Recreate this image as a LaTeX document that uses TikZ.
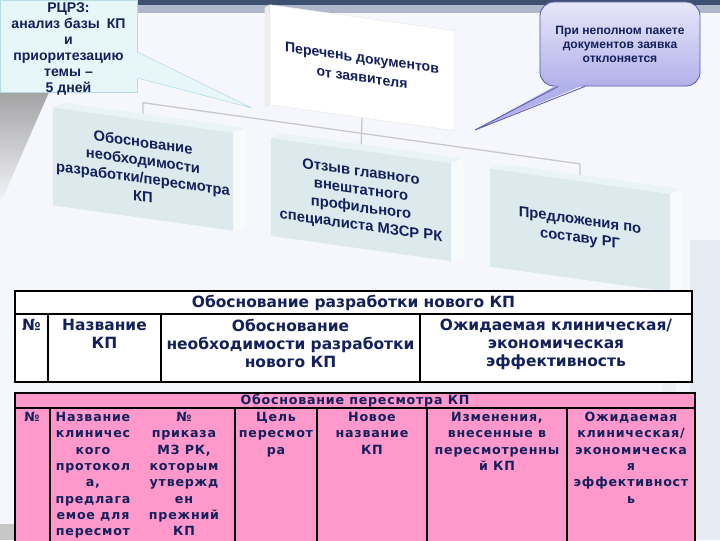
\documentclass[tikz,border=0pt]{standalone}
\usepackage{fontspec}
\setmainfont{Liberation Sans}
\newfontfamily\dejavu{DejaVu Sans}
\newfontfamily\dejawide[LetterSpace=6]{DejaVu Sans}
\usepackage{xcolor}
\usetikzlibrary{positioning,calc}
\definecolor{navy}{HTML}{13205A}
\definecolor{bgtint}{HTML}{F6F7FC}
\definecolor{boxfront}{HTML}{DCEAEE}
\definecolor{boxtop}{HTML}{EAF3F5}
\definecolor{boxside}{HTML}{F7FBFC}
\definecolor{tipcyan}{HTML}{E6F6F9}
\definecolor{tipedge}{HTML}{B4DCE6}
\definecolor{lavtop}{HTML}{E6E6FA}
\definecolor{lavbot}{HTML}{B2B2EA}
\definecolor{lavedge}{HTML}{5A5AAE}
\definecolor{rose}{HTML}{FF99CC}
\definecolor{bandnavy}{HTML}{3E5072}
\definecolor{bandgrey}{HTML}{AEB8CA}
\definecolor{steel}{HTML}{A9BCD0}
\tikzset{
  docbox/.style  ={fill=boxfront,minimum width=4.5cm,minimum height=2.45cm,align=center,
                   font=\fontsize{10.5}{12.8}\selectfont\bfseries,text=navy,transform shape,inner sep=1pt},
  reqbox/.style  ={fill=white,draw=black!8,minimum width=4.6cm,minimum height=2.5cm,align=center,
                   font=\fontsize{10}{14}\selectfont\bfseries,text=navy,transform shape},
  topface/.style ={fill=boxtop},
  sideface/.style={fill=boxside},
  link/.style    ={draw=black!22,line width=0.9pt},
  notebox/.style ={fill=tipcyan,draw=tipedge,line width=0.4pt,minimum width=3.425cm,minimum height=2.3cm},
  notetext/.style={align=center,font=\fontsize{10}{11.5}\selectfont\bfseries,text=navy,inner sep=0pt},
  tipbox/.style  ={rounded corners=10pt,top color=lavtop,bottom color=lavbot,draw=lavedge,line width=0.6pt,
                   minimum width=4cm,minimum height=2.1cm,align=center,
                   font=\fontsize{8.6}{10}\selectfont\bfseries,text=navy},
  tabline/.style ={draw=black,line width=0.8pt},
  tabcell/.style ={font=\dejavu\bfseries\fontsize{11}{12.8}\selectfont,text=navy,align=center,inner sep=0pt},
  rosecell/.style={anchor=north,font=\dejawide\bfseries\fontsize{9}{11.6}\selectfont,text=navy,
                   align=center,inner sep=0pt},
}
\begin{document}
\begin{tikzpicture}[x=0.025cm,y=-0.025cm]
  \useasboundingbox (0,0) rectangle (720,540);
  \clip (0,0) rectangle (720,540);
  % backdrop
  \fill[bgtint] (0,0) rectangle (720,540);
  \shade[top color=black!45,bottom color=bgtint,opacity=.8] (0,90) -- (50,90) -- (28,140) -- (0,205) -- cycle;
  \fill[steel,opacity=.2] (690,240) rectangle (720,540);
  \fill[steel,opacity=.12] (662,250) rectangle (676,540);
  \fill[black!22] (0,524) rectangle (70,540);
  \fill[bandnavy] (120,0) rectangle (720,5);
  \fill[bandgrey] (120,5) rectangle (720,13);

  % documents tree
  \begin{scope}[yslant=-0.14]
    \node[reqbox] (req) at (362,17) {Перечень документов\\от заявителя};
    \node[docbox] (obosn) at (143,149) {Обоснование\\необходимости\\разработки/пересмотра\\КП};
    \node[docbox] (otzyv) at (361,149) {Отзыв главного\\внештатного\\профильного\\специалиста МЗСР РК};
    \node[docbox] (predl) at (580,149) {Предложения по\\составу РГ};
    \fill[black!7] (req.north west) -- ++(-5,4) -- ($(req.south west)+(-5,4)$) -- (req.south west) -- cycle;
    \draw[link] (req.south) -- (otzyv.north);
    \draw[link] (obosn.north) -- ++(0,-17) -- ($(predl.north)+(0,-17)$) -- (predl.north);
    \foreach \b in {obosn,otzyv,predl}{
      \fill[topface] (\b.north west) -- ++(12,-6) -- ($(\b.north east)+(12,-6)$) -- (\b.north east) -- cycle;
      \fill[sideface] (\b.north east) -- ++(12,-6) -- ($(\b.south east)+(12,-6)$) -- (\b.south east) -- cycle;
    }
  \end{scope}

  % callouts
  \node[notebox] (rcrz) at (68.5,46) {};
  \node[notetext] (rcrztext) at (68.5,49) {РЦРЗ:\\анализ базы\enspace КП\\и\\приоритезацию\\темы –\\5 дней};
  \coordinate (rcrztip) at (252,108);
  \fill[tipcyan] ($(rcrz.east)+(-1,6)$) -- (rcrztip) -- ($(rcrz.east)+(-1,32)$) -- cycle;
  \draw[tipedge,line width=0.4pt] ($(rcrz.east)+(0,6)$) -- (rcrztip) -- ($(rcrz.east)+(0,32)$);

  \node[tipbox] (reject) at (620,44) {При неполном пакете\\документов заявка\\отклоняется};
  \coordinate (rejtip) at (475,130);
  \fill[lavbot] ($(reject.south)+(-62,-2)$) -- (rejtip) -- ($(reject.south)+(-35,-2)$) -- cycle;
  \draw[lavedge,line width=0.6pt] ($(reject.south)+(-62,0)$) -- (rejtip) -- ($(reject.south)+(-35,0)$);

  % new protocol table
  \fill[white] (15,291) rectangle (692,382);
  \draw[tabline] (15,291) rectangle (692,382);
  \draw[tabline] (15,314) -- (692,314);
  \foreach \x in {48,161,420} \draw[tabline] (\x,314) -- (\x,382);
  \node[tabcell] (t1head) at (353.5,302.5) {Обоснование разработки нового КП};
  \node[tabcell,anchor=north] (t1num)  at (31.5,319) {№};
  \node[tabcell,anchor=north] (t1name) at (104.5,319) {Название\\КП};
  \node[tabcell,anchor=north] (t1need) at (290.5,319) {Обоснование\\необходимости разработки\\нового КП};
  \node[tabcell,anchor=north] (t1eff)  at (556,319) {Ожидаемая клиническая/\\экономическая\\эффективность};

  % revision table
  \fill[rose] (15,393) rectangle (695,560);
  \draw[tabline] (15,393) rectangle (695,560);
  \draw[tabline] (15,408) -- (695,408);
  \foreach \x in {50,235,317,427,567} \draw[tabline] (\x,408) -- (\x,560);
  \node[rosecell,anchor=center] (t2head) at (355,401) {Обоснование пересмотра КП};
  \node[rosecell] (t2num)   at (32,412)  {№};
  \node[rosecell] (t2name)  at (93,412)  {Название\\клиничес\\кого\\протокол\\а,\\предлага\\емое для\\пересмот};
  \node[rosecell] (t2order) at (184,412) {№\\приказа\\МЗ РК,\\которым\\утвержд\\ен\\прежний\\КП};
  \node[rosecell] (t2goal)  at (276,412) {Цель\\пересмот\\ра};
  \node[rosecell] (t2new)   at (372,412) {Новое\\название\\КП};
  \node[rosecell] (t2chg)   at (497,412) {Изменения,\\внесенные в\\пересмотренны\\й КП};
  \node[rosecell] (t2eff)   at (631,412) {Ожидаемая\\клиническая/\\экономическа\\я\\эффективност\\ь};
\end{tikzpicture}
\end{document}
